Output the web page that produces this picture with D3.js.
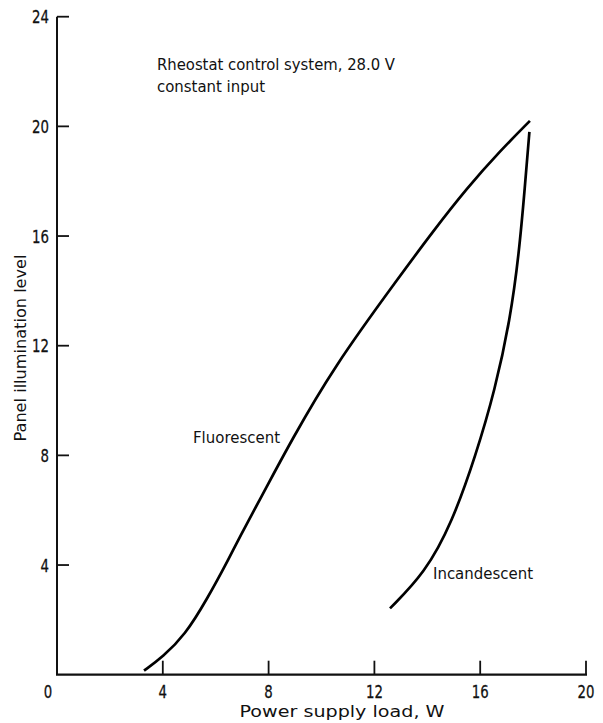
<!DOCTYPE html>
<html><head><meta charset="utf-8">
<script src="https://cdn.jsdelivr.net/npm/d3@7"></script>
<style>
body{margin:0;background:#fff;}
text{font-family:"DejaVu Sans",sans-serif;fill:#111;}
</style></head>
<body><svg id="c" width="603" height="723"></svg>
<script>
const xTicks = [0,4,8,12,16,20];
const yTicks = [4,8,12,16,20,24];
const fluorescentX = [3.29,4.0,4.84,5.66,6.54,6.84,7.93,8.81,10.44,12.97,14.2,15.5,16.75,17.88];
const fluorescentY = [0.15,0.65,1.45,2.73,4.31,4.9,6.86,8.45,11.2,14.55,16.15,17.75,19.1,20.2];
const incandescentX = [12.59,13.91,14.93,15.84,16.56,17.13,17.47,17.69,17.86];
const incandescentY = [2.42,3.71,5.53,8.02,10.39,12.94,15.38,17.8,19.8];
const xLabel = "Power supply load, W";
const yLabel = "Panel illumination level";
const noteLines = ["Rheostat control system, 28.0 V","constant input"];

const svg = d3.select("#c");
const x = d3.scaleLinear().domain([0,20]).range([57,586]);
const y = d3.scaleLinear().domain([0,24]).range([674.7,16.7]);

function txt(sel, len){ return sel.attr("textLength",len).attr("lengthAdjust","spacingAndGlyphs"); }

// axis lines
const g = svg.append("g").attr("stroke","#111").attr("fill","none");
g.append("line").attr("x1",x(0)-1).attr("x2",x(20)+1).attr("y1",y(0)).attr("y2",y(0)).attr("stroke-width",2.2);
g.append("line").attr("x1",x(0)).attr("x2",x(0)).attr("y1",y(0)).attr("y2",y(24)).attr("stroke-width",2);

// x ticks (upward)
xTicks.filter(d=>d>0).forEach(d=>{
  g.append("line").attr("x1",x(d)).attr("x2",x(d)).attr("y1",y(0)).attr("y2",y(0)-14).attr("stroke-width",1.8);
});
// y ticks (rightward)
yTicks.forEach(d=>{
  g.append("line").attr("x1",x(0)).attr("x2",x(0)+12).attr("y1",y(d)).attr("y2",y(d)).attr("stroke-width",1.8);
});

// tick labels (condensed via horizontal scale)
svg.append("g").attr("stroke","#111").attr("stroke-width",0.3).selectAll("text").data(xTicks).join("text")
  .attr("transform",d=>`translate(${x(d) + (d===0?-9:0)},698) scale(0.72,1)`)
  .attr("text-anchor","middle").attr("font-size",18.5).text(d=>d);
svg.append("g").attr("stroke","#111").attr("stroke-width",0.3).selectAll("text").data(yTicks).join("text")
  .attr("transform",d=>`translate(49,${y(d)+6.5}) scale(0.72,1)`)
  .attr("text-anchor","end").attr("font-size",18.5).text(d=>d);

// axis titles
txt(svg.append("text").attr("x",342).attr("y",717).attr("text-anchor","middle")
  .attr("font-size",16.5).text(xLabel), 205);
txt(svg.append("text").attr("transform","translate(26,348) rotate(-90)").attr("text-anchor","middle")
  .attr("font-size",16).text(yLabel), 187);

// note
txt(svg.append("text").attr("x",157).attr("y",70).attr("font-size",16).text(noteLines[0]), 238);
txt(svg.append("text").attr("x",157).attr("y",92).attr("font-size",16).text(noteLines[1]), 108);

// curves
const line = d3.line().x(d=>x(d[0])).y(d=>y(d[1])).curve(d3.curveBasis);
const fl = fluorescentX.map((v,i)=>[v,fluorescentY[i]]);
const inc = incandescentX.map((v,i)=>[v,incandescentY[i]]);
svg.append("path").datum(fl).attr("d",line).attr("fill","none").attr("stroke","#000").attr("stroke-width",2.7);
svg.append("path").datum(inc).attr("d",line).attr("fill","none").attr("stroke","#000").attr("stroke-width",2.7);

// curve labels
txt(svg.append("text").attr("x",193).attr("y",443).attr("font-size",16).text("Fluorescent"), 87);
txt(svg.append("text").attr("x",433).attr("y",579).attr("font-size",16).text("Incandescent"), 100);
</script></body></html>
